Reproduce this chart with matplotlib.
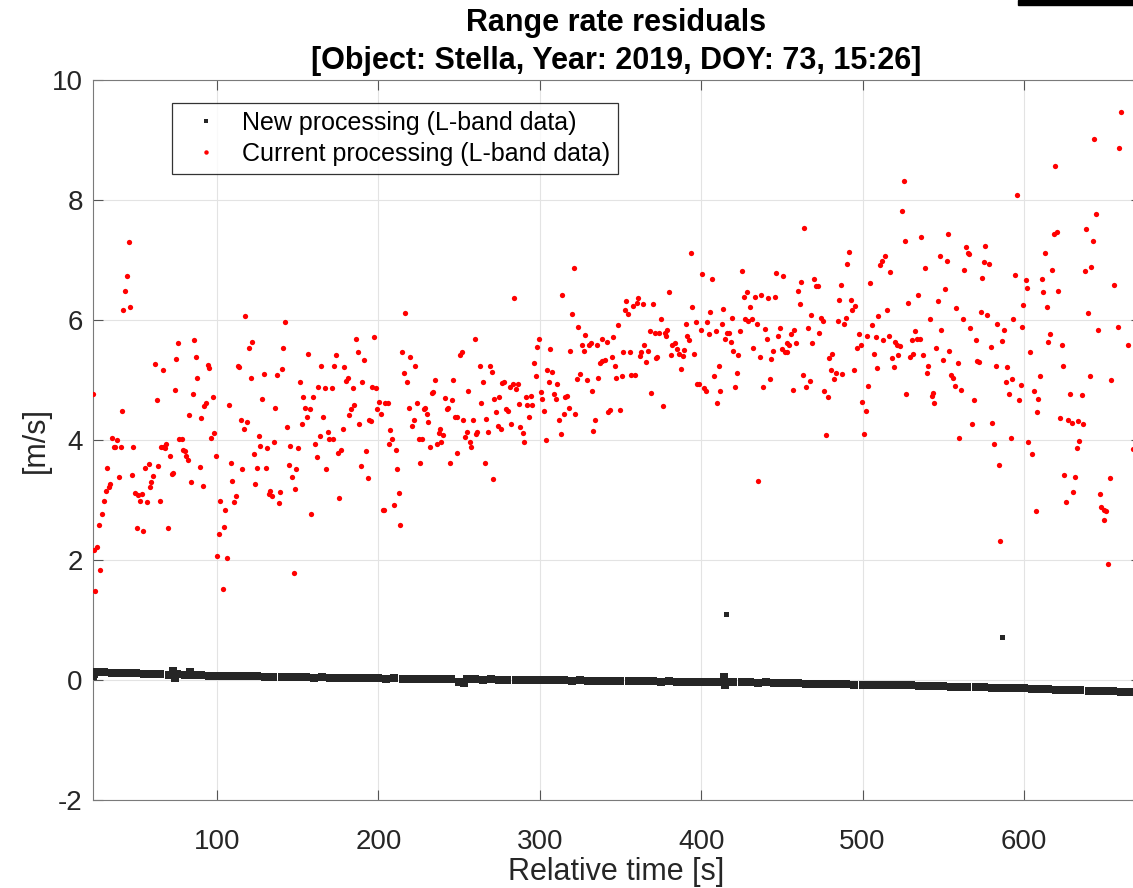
import matplotlib as mpl
import matplotlib.pyplot as plt
from matplotlib.patches import Rectangle

mpl.rcParams.update(
    {
        "font.family": "sans-serif",
        "font.sans-serif": ["Liberation Sans", "Arial", "DejaVu Sans"],
        "axes.linewidth": 0.8,
        "axes.unicode_minus": False,
    }
)

INK = "#262626"

# New processing (L-band data): residuals in m/s vs relative time in s
t_new = [23, 24, 25, 27, 30, 35, 40, 45, 50, 55, 60, 65, 70, 73, 74, 75, 80, 83, 85, 90, 95,
         100, 105, 110, 115, 120, 125, 130, 135, 140, 145, 150, 155, 160, 165, 170, 175, 180,
         185, 190, 195, 200, 205, 210, 215, 220, 225, 230, 235, 240, 245, 250, 253, 255, 260,
         265, 270, 275, 280, 285, 290, 295, 300, 305, 310, 315, 320, 325, 330, 335, 340, 345,
         350, 355, 360, 365, 370, 375, 380, 385, 390, 395, 400, 405, 410, 414, 415, 416,
         420, 425, 430, 435, 440, 445, 450, 455, 460, 465, 470, 475, 480, 485, 490, 495, 500,
         505, 510, 515, 520, 525, 530, 535, 540, 545, 550, 555, 560, 565, 570, 575, 580, 585,
         590, 595, 600, 605, 610, 615, 620, 625, 630, 635, 640, 645, 650, 655, 660, 665,
         668]
v_new = [0.06, 0.10, 0.13, 0.14, 0.13, 0.12, 0.12, 0.11, 0.11, 0.10, 0.10, 0.10, 0.09, 0.15,
         0.03, 0.10, 0.09, 0.14, 0.08, 0.08, 0.075,
         0.07, 0.07, 0.065, 0.06, 0.06, 0.06, 0.055, 0.05, 0.055, 0.05, 0.045, 0.05, 0.04,
         0.045, 0.04, 0.035, 0.04, 0.03, 0.035, 0.03, 0.03, 0.025, 0.03, 0.02, 0.025, 0.02,
         0.02, 0.015, 0.02, 0.01, -0.04, -0.05, 0.01, 0.01, 0.005, 0.01, 0.005, 0.0, 0.005,
         0.0, 0.0, 0.0, -0.005, 0.0, -0.005, -0.01, -0.005, -0.01, -0.01, -0.015, -0.01,
         -0.015, -0.02, -0.015, -0.02, -0.02, -0.025, -0.02, -0.025, -0.03, -0.025, -0.03,
         -0.03, -0.035, 0.05, -0.08, -0.03, -0.04, -0.035, -0.04, -0.045, -0.04, -0.05,
         -0.05, -0.055, -0.05, -0.06, -0.06, -0.065, -0.06, -0.07, -0.07, -0.075, -0.075,
         -0.08, -0.08, -0.085, -0.085, -0.09, -0.09, -0.095, -0.1, -0.1, -0.105, -0.11, -0.11,
         -0.115, -0.12, -0.12, -0.125, -0.13, -0.135, -0.14, -0.14, -0.145, -0.15,
         -0.155, -0.16, -0.16, -0.165, -0.17, -0.175, -0.18, -0.185, -0.19, -0.195, -0.2, -0.2]
# isolated samples of the new processing, away from the main band
t_new_iso = [415.4, 586.4]
v_new_iso = [1.10, 0.72]

# Current processing (L-band data)
t_cur = [
    45.5, 44.2, 43.2, 41.9, 46.1, 117.5, 23.0, 75.8, 86.0, 87.0, 61.6, 66.7, 74.8, 94.2, 95.2,
    87.8, 73.8, 85.1, 62.8, 97.3, 93.0, 92.1, 40.9, 82.8, 90.3, 98.3, 96.3, 119.6, 121.7, 112.8,
    113.6, 128.9, 121.0, 127.9, 107.6, 114.6, 118.8, 116.7, 126.0, 126.8, 131.0, 122.7, 115.7,
    125.0, 130.1, 123.7, 111.7, 110.5, 132.0, 109.5, 108.4, 99.4, 102.2, 105.3, 104.3, 101.2,
    100.2, 106.4, 103.5, 34.9, 38.0, 36.2, 37.0, 40.3, 48.1, 32.0, 39.1, 33.9, 33.1, 31.0, 30.0,
    28.9, 26.9, 25.8, 23.6, 27.7, 24.6, 47.1, 49.4, 51.2, 53.5, 52.3, 56.4, 50.2, 54.1, 69.6,
    58.5, 59.3, 60.5, 55.4, 57.6, 63.4, 64.5, 65.3, 66.7, 67.8, 68.6, 70.7, 76.6, 78.1, 79.1,
    80.4, 81.0, 81.8, 71.9, 72.7, 84.1, 89.2, 91.1,
    216.6, 142.3, 185.9, 197.4, 141.1, 156.5, 173.7, 187.1, 191.2, 214.6, 219.9, 222.8, 164.6,
    172.7, 178.9, 140.0, 136.9, 216.0, 217.7, 180.9, 179.9, 190.0, 151.4, 162.5, 166.9, 171.0,
    184.2, 196.2, 198.3, 235.0, 233.8, 233.0, 241.2, 153.2, 159.4, 200.5, 204.2, 205.7, 224.1,
    136.1, 154.3, 157.8, 185.0, 183.0, 199.3, 201.6, 218.9, 228.2, 229.2, 229.9, 182.0, 155.5,
    165.8, 152.6, 188.3, 194.1, 195.4, 221.8, 220.6, 230.9, 238.3, 237.3, 240.2, 143.3, 177.8,
    168.7, 163.6, 169.6, 171.8, 207.3, 208.4, 206.5, 225.1, 227.0, 236.3, 239.0, 232.1, 210.9,
    135.3, 145.2, 150.4, 160.7, 176.8, 174.9, 192.3, 161.7, 189.0, 144.4, 149.1, 167.7, 211.5,
    225.7, 146.2, 193.3, 148.5, 133.0, 134.0, 139.2, 138.2, 212.5, 175.8, 209.6, 202.6, 203.4,
    158.4, 213.5, 147.5,
    321.0, 284.0, 314.0, 319.8, 323.9, 348.5, 259.9, 299.5, 298.5, 306.6, 328.2, 326.2, 327.2,
    330.3, 331.5, 335.3, 338.4, 341.5, 345.6, 318.9, 251.6, 250.4, 262.8, 269.0, 270.2, 296.6,
    304.7, 307.8, 297.5, 305.7, 310.5, 246.5, 265.0, 276.6, 278.1, 283.4, 286.3, 281.4, 285.3,
    324.9, 323.1, 329.1, 336.3, 337.5, 338.8, 340.4, 344.5, 346.4, 347.4, 332.4, 255.8, 245.4,
    243.2, 242.5, 300.6, 301.4, 308.8, 309.9, 315.8, 316.9, 291.5, 294.4, 271.9, 275.0, 263.8,
    287.3, 292.3, 295.4, 317.9, 278.9, 280.1, 273.1, 302.4, 315.0, 322.0, 293.3, 343.3, 342.1,
    349.7, 247.3, 248.7, 252.4, 258.6, 266.7, 311.7, 334.2, 254.7, 261.1, 260.5, 267.9, 274.1,
    276.0, 282.4, 288.0, 289.4, 290.4, 253.5, 257.0, 257.6, 303.7, 313.0, 333.2, 248.5, 244.4,
    265.9, 270.8,
    393.5, 400.5, 425.1, 446.5, 450.7, 406.7, 380.3, 353.6, 360.6, 360.0, 357.8, 364.0, 369.9,
    352.6, 354.9, 394.5, 405.7, 413.7, 428.2, 426.3, 433.3, 437.3, 441.4, 445.5, 430.2, 418.9,
    427.3, 429.2, 431.5, 434.6, 375.3, 396.6, 403.8, 390.4, 413.1, 368.1, 371.2, 374.1, 377.4,
    379.0, 378.0, 399.9, 404.8, 409.0, 416.0, 417.2, 424.0, 414.7, 418.3, 391.2, 392.4, 439.5,
    448.8, 440.8, 447.6, 455.6, 457.7, 453.0, 454.6, 449.9, 453.4, 451.9, 444.7, 432.1, 419.9,
    423.0, 436.2, 443.4, 364.8, 382.1, 384.0, 385.0, 386.5, 388.5, 389.6, 395.7, 381.3, 366.8,
    362.9, 361.9, 351.6, 355.7, 372.6, 372.0, 365.8, 410.8, 387.3, 356.5, 358.8, 350.9, 407.7,
    422.2, 442.4, 397.2, 398.8, 401.5, 402.8, 411.9, 421.1, 438.5, 456.9, 368.7, 376.1, 409.6,
    435.4,
    525.4, 524.2, 463.7, 526.2, 536.4, 553.1, 564.0, 565.1, 566.1, 491.6, 490.5, 514.1, 512.0,
    511.0, 547.9, 552.1, 538.6, 563.0, 517.2, 462.0, 459.7, 470.1, 471.1, 472.6, 486.4, 504.8,
    550.8, 534.5, 461.0, 485.6, 492.6, 495.5, 493.6, 546.7, 528.1, 557.8, 515.1, 468.0, 509.7,
    474.2, 475.2, 484.5, 489.7, 488.5, 541.5, 562.2, 566.5, 505.8, 465.9, 473.2, 458.7, 468.8,
    497.7, 502.9, 508.1, 512.8, 516.1, 520.3, 521.5, 523.1, 532.2, 530.6, 533.7, 535.3, 548.5,
    496.5, 499.0, 481.2, 479.4, 506.8, 518.0, 522.1, 529.3, 531.4, 537.6, 545.7, 553.7, 549.6,
    558.9, 519.2, 508.9, 494.9, 480.4, 483.3, 487.4, 482.3, 540.5, 539.7, 555.0, 556.0, 557.0,
    561.1, 463.1, 467.2, 464.9, 476.3, 478.3, 503.5, 499.6, 501.9, 527.1, 543.8, 542.8, 544.4,
    477.1, 500.6, 559.9,
    660.2, 643.5, 659.0, 619.4, 595.8, 644.8, 638.4, 642.9, 618.3, 620.4, 576.0, 613.0, 575.4,
    578.5, 574.3, 594.6, 601.0, 602.0, 611.1, 611.9, 617.1, 621.2, 637.7, 641.7, 655.9, 599.7,
    614.2, 639.4, 573.1, 577.2, 593.3, 583.6, 587.6, 598.5, 616.3, 615.2, 623.5, 645.8, 658.0,
    664.2, 570.2, 579.5, 586.5, 603.9, 571.0, 572.1, 582.4, 589.4, 624.3, 588.8, 592.7, 597.9,
    610.1, 640.8, 653.8, 590.7, 596.9, 606.1, 609.0, 628.4, 635.7, 569.2, 607.8, 622.3, 627.4,
    629.5, 633.6, 636.7, 568.1, 580.3, 591.7, 581.2, 602.6, 634.2, 632.6, 667.3, 604.9, 584.7,
    625.1, 631.5, 653.0, 630.3, 646.8, 626.2, 647.9, 649.3, 651.0, 649.7, 607.2, 585.3, 652.0,
]
v_cur = [
    7.30, 6.74, 6.49, 6.17, 6.22, 6.06, 4.77, 5.62, 5.66, 5.38, 5.27, 5.16, 5.35, 5.25, 5.20,
    5.04, 4.83, 4.77, 4.66, 4.71, 4.61, 4.57, 4.48, 4.41, 4.36, 4.11, 4.04, 5.53, 5.64, 5.24,
    5.21, 5.10, 5.04, 4.69, 4.58, 4.33, 4.30, 4.19, 4.06, 3.90, 3.86, 3.77, 3.52,
    3.53, 3.53, 3.27, 3.07, 2.97, 3.10, 3.32, 3.61, 3.74, 2.98, 2.84, 2.55, 2.44,
    2.06, 2.04, 1.52, 4.04, 4.00, 3.89, 3.89, 3.88, 3.88, 3.54, 3.38, 3.26, 3.22, 3.15, 2.99,
    2.76, 2.58, 2.21, 2.17, 1.84, 1.49, 3.42, 3.12, 3.08, 3.10, 2.99, 2.96, 2.53, 2.48, 2.53,
    3.21, 3.30, 3.40, 3.54, 3.60, 3.56, 2.98, 3.88, 3.88, 3.87, 3.93, 3.73, 4.02, 4.01, 3.83,
    3.81, 3.74, 3.67, 3.43, 3.45, 3.30, 3.55, 3.24,
    6.12, 5.96, 5.69, 5.71, 5.53, 5.44, 5.41, 5.46, 5.34, 5.47, 5.38, 5.24, 5.23,
    5.24, 5.22, 5.19, 5.09, 5.12, 4.97, 5.04, 4.98, 4.97, 4.97, 4.88, 4.86, 4.86,
    4.86, 4.89, 4.86, 5.00, 4.80, 4.78, 4.70, 4.72, 4.71, 4.64, 4.62, 4.62, 4.61,
    4.53, 4.53, 4.52, 4.59, 4.52, 4.51, 4.44, 4.53, 4.51, 4.53, 4.44, 4.42, 4.39,
    4.39, 4.26, 4.26, 4.33, 4.31, 4.33, 4.23, 4.30, 4.19, 4.12, 4.09, 4.22, 4.19,
    4.14, 4.07, 4.02, 4.02, 4.16, 4.02, 3.94, 4.01, 4.01, 3.94, 3.96, 3.89, 3.84,
    3.97, 3.90, 3.87, 3.93, 3.84, 3.78, 3.81, 3.72, 3.56, 3.58, 3.52, 3.52, 3.52,
    3.61, 3.39, 3.37, 3.18, 3.15, 3.06, 3.13, 2.95, 3.12, 3.03, 2.91, 2.84, 2.84,
    2.77, 2.58, 1.79,
    6.86, 6.37, 6.42, 6.10, 5.89, 5.92, 5.68, 5.69, 5.55, 5.52, 5.75, 5.59, 5.49,
    5.59, 5.61, 5.58, 5.69, 5.63, 5.72, 5.49, 5.47, 5.41, 5.23, 5.23, 5.14, 5.28,
    5.17, 5.13, 5.06, 4.97, 4.94, 5.00, 4.96, 4.95, 4.96, 4.93, 4.93, 4.88, 4.85,
    5.10, 5.02, 5.00, 5.04, 5.29, 5.32, 5.34, 5.39, 5.23, 5.04, 4.81, 4.82, 4.66,
    4.53, 4.52, 4.80, 4.68, 4.77, 4.69, 4.72, 4.74, 4.71, 4.73, 4.68, 4.72, 4.61,
    4.60, 4.58, 4.58, 4.54, 4.52, 4.48, 4.46, 4.48, 4.43, 4.43, 4.39, 4.50, 4.46,
    4.50, 4.39, 4.39, 4.33, 4.33, 4.35, 4.33, 4.33, 4.14, 4.14, 4.10, 4.13, 4.23,
    4.19, 4.27, 4.21, 4.11, 3.96, 4.05, 3.97, 3.89, 4.00, 4.10, 4.15, 3.79, 3.61,
    3.62, 3.35,
    7.11, 6.77, 6.81, 6.79, 6.74, 6.68, 6.47, 6.31, 6.37, 6.28, 6.23, 6.26, 6.26,
    6.16, 6.10, 6.21, 6.14, 6.18, 6.46, 6.38, 6.38, 6.42, 6.37, 6.38, 6.21, 6.04,
    6.01, 5.98, 6.01, 5.94, 6.01, 5.97, 5.96, 5.93, 5.93, 5.82, 5.79, 5.79, 5.78,
    5.84, 5.73, 5.83, 5.76, 5.81, 5.79, 5.79, 5.81, 5.69, 5.63, 5.73, 5.67, 5.85,
    5.86, 5.69, 5.73, 5.77, 5.83, 5.61, 5.58, 5.51, 5.47, 5.46, 5.48, 5.53, 5.49,
    5.42, 5.39, 5.35, 5.59, 5.59, 5.61, 5.51, 5.44, 5.40, 5.50, 5.44, 5.41, 5.48,
    5.46, 5.40, 5.47, 5.47, 5.39, 5.36, 5.30, 5.24, 5.18, 5.09, 5.09, 5.07, 5.06,
    5.11, 5.01, 4.93, 4.93, 4.86, 4.81, 4.82, 4.88, 4.88, 4.83, 4.78, 4.57, 4.62,
    3.32,
    8.32, 7.82, 7.53, 7.32, 7.38, 7.43, 7.21, 7.12, 7.10, 7.13, 6.93, 7.07, 6.98,
    6.92, 7.07, 6.99, 6.86, 6.83, 6.80, 6.64, 6.49, 6.68, 6.57, 6.56, 6.59, 6.61,
    6.52, 6.41, 6.27, 6.33, 6.33, 6.23, 6.17, 6.32, 6.28, 6.20, 6.16, 6.09, 6.06,
    6.03, 5.98, 5.98, 6.03, 5.93, 6.01, 6.02, 5.87, 5.92, 5.87, 5.79, 5.62, 5.61,
    5.76, 5.73, 5.71, 5.67, 5.73, 5.63, 5.58, 5.56, 5.82, 5.66, 5.68, 5.68, 5.84,
    5.54, 5.58, 5.43, 5.37, 5.44, 5.36, 5.41, 5.39, 5.44, 5.42, 5.53, 5.49, 5.34,
    5.28, 5.22, 5.20, 5.17, 5.16, 5.12, 5.10, 5.02, 5.24, 5.12, 5.08, 5.03, 4.90,
    4.84, 5.08, 4.98, 4.88, 4.81, 4.71, 4.90, 4.64, 4.49, 4.76, 4.78, 4.73, 4.62,
    4.09, 4.10, 4.03,
    9.46, 9.02, 8.86, 8.57, 8.08, 7.76, 7.52, 7.32, 7.44, 7.47, 7.23, 7.11, 6.97,
    6.94, 6.70, 6.75, 6.66, 6.54, 6.69, 6.47, 6.83, 6.49, 6.81, 6.88, 6.59, 6.25,
    6.22, 6.12, 6.14, 6.09, 6.02, 5.94, 5.83, 5.88, 5.77, 5.63, 5.59, 5.84, 5.89,
    5.58, 5.67, 5.55, 5.65, 5.47, 5.32, 5.30, 5.24, 5.21, 5.23, 4.96, 5.02, 4.92,
    5.06, 5.07, 5.00, 4.77, 4.67, 4.81, 4.68, 4.76, 4.75, 4.66, 4.47, 4.36, 4.34,
    4.29, 4.31, 4.26, 4.26, 4.28, 4.04, 3.94, 3.97, 3.98, 3.86, 3.85, 3.76, 3.58,
    3.41, 3.38, 3.36, 3.13, 3.10, 2.97, 2.88, 2.84, 2.81, 2.66, 2.81, 2.31, 1.93,
]

x_ticks = [100, 200, 300, 400, 500, 600]
y_ticks = [-2, 0, 2, 4, 6, 8, 10]


def main() -> None:
    fig = plt.figure(figsize=(11.33, 8.88), dpi=100)
    ax = fig.add_axes([92.5 / 1133, 88 / 888, 1048 / 1133, 720 / 888])

    ax.plot(t_new, v_new, "s", color="#262626", ms=6.4, mew=0,
            label="New processing (L-band data)", zorder=3)
    ax.plot(t_new_iso, v_new_iso, "s", color="#262626", ms=3.6, mew=0, zorder=3)
    ax.plot(t_cur, v_cur, "o", color="#ff0000", ms=3.8, mew=0,
            label="Current processing (L-band data)", zorder=3)

    ax.set_xlim(22.9, 672.2)
    ax.set_ylim(-2, 10)
    ax.set_xticks(x_ticks)
    ax.set_yticks(y_ticks)
    ax.grid(True, color="#e3e3e3", lw=0.8)
    ax.set_axisbelow(True)
    for spine in ax.spines.values():
        spine.set_color("#7a7a7a")
    ax.tick_params(direction="in", length=7, width=0.8, color="#555555",
                   labelcolor=INK, labelsize=20, top=True, right=True)
    ax.tick_params(axis="x", pad=21)
    ax.tick_params(axis="y", pad=7)

    ax.set_xlabel("Relative time [s]", fontsize=22, color=INK, labelpad=1)
    ax.set_ylabel("[m/s]", fontsize=22, color=INK, labelpad=1)
    ax.set_title("Range rate residuals\n[Object: Stella, Year: 2019, DOY: 73, 15:26]",
                 fontsize=22, fontweight="bold", color="black", pad=8, linespacing=1.35)

    leg = ax.legend(loc="upper left", bbox_to_anchor=(0.0759, 0.968), borderaxespad=0,
                    fontsize=18, frameon=True, fancybox=False, edgecolor="black",
                    borderpad=0.3, labelspacing=0.3, handlelength=2.1,
                    handletextpad=0.4)
    leg.get_frame().set_linewidth(0.9)
    for handle in leg.legend_handles:
        handle.set_markersize(3.2)

    # black bar in the top-right corner of the original screenshot
    fig.patches.append(Rectangle((1018 / 1133, 1 - 5 / 888), 115 / 1133, 5 / 888,
                                 transform=fig.transFigure, color="black"))

    fig.savefig("out.png", dpi=100)
    plt.close(fig)


if __name__ == "__main__":
    main()
